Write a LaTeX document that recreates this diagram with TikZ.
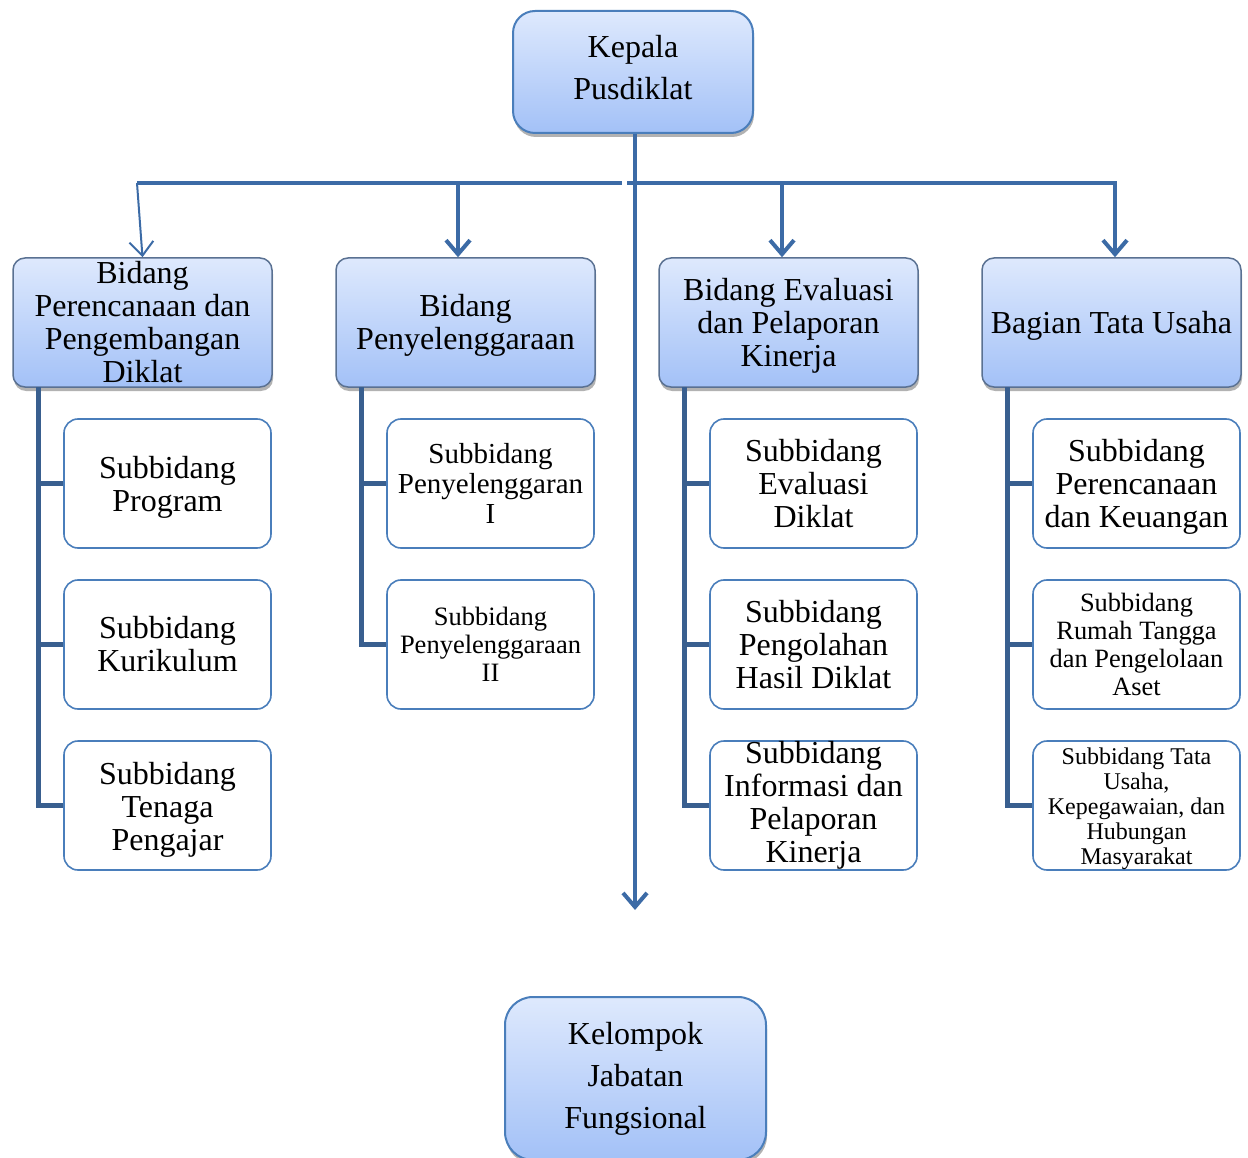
\documentclass[tikz,border=0pt]{standalone}
\usepackage{fontspec}
\setmainfont{Liberation Serif}
\usetikzlibrary{arrows.meta,shadows}
\definecolor{boxline}{HTML}{4A7EBB}
\definecolor{unitline}{HTML}{5A7192}
\definecolor{gradtop}{HTML}{DEE9FD}
\definecolor{gradbot}{HTML}{A3C1F7}
\definecolor{linkblue}{HTML}{3C6BA6}
\definecolor{brackblue}{HTML}{395F8F}
\newcommand{\padtop}[1]{\rule{0pt}{#1}}
\newcommand{\padbot}[1]{\rule[-#1]{0pt}{0pt}}
\begin{document}
\begin{tikzpicture}[x=1pt,y=-1pt,
    headbox/.style={draw=boxline,line width=2pt,top color=gradtop,bottom color=gradbot,align=center,inner sep=0pt,
        drop shadow={shadow xshift=1pt,shadow yshift=-4pt,opacity=0.3,fill=black},font=\fontsize{32}{42}\selectfont},
    unitbox/.style={draw=unitline,line width=1.5pt,rounded corners=12pt,top color=gradtop,bottom color=gradbot,align=center,inner sep=0pt,
        minimum width=259pt,minimum height=129pt,drop shadow={shadow xshift=1pt,shadow yshift=-4pt,opacity=0.3,fill=black},
        font=\fontsize{32}{33}\selectfont},
    subbox/.style={draw=boxline,line width=1.6pt,rounded corners=14pt,fill=white,align=center,inner sep=0pt,
        minimum width=207pt,minimum height=129pt,font=\fontsize{32}{33}\selectfont},
    link/.style={draw=linkblue,line width=4pt},
    bracket/.style={draw=brackblue,line width=5pt},
    tip/.style={-{Straight Barb[length=14pt,width=24pt]}}]
    \useasboundingbox (0,0) rectangle (1248,1158);
    \node[headbox,rounded corners=22pt,minimum width=240pt,minimum height=122pt] (kepala) at (633,72) {Kepala\\Pusdiklat\padbot{10pt}};
    \node[unitbox] (b1) at (142.5,322.5) {Bidang\\Perencanaan dan\\Pengembangan\\Diklat};
    \node[unitbox] (b2) at (465.5,322.5) {\padtop{28pt}Bidang\\Penyelenggaraan};
    \node[unitbox] (b3) at (788.5,322.5) {\padtop{28pt}Bidang Evaluasi\\dan Pelaporan\\Kinerja};
    \node[unitbox] (b4) at (1111.5,322.5) {\padtop{28pt}Bagian Tata Usaha};
    \node[subbox] (s11) at (167.5,483.5) {\padtop{30pt}Subbidang\\Program};
    \node[subbox] (s12) at (167.5,644.5) {Subbidang\\Kurikulum};
    \node[subbox] (s13) at (167.5,805.5) {\padtop{30pt}Subbidang\\Tenaga\\Pengajar};
    \node[subbox,font=\fontsize{29}{30}\selectfont] (s21) at (490.5,483.5) {Subbidang\\Penyelenggaran\\I};
    \node[subbox,font=\fontsize{26.5}{28}\selectfont] (s22) at (490.5,644.5) {Subbidang\\Penyelenggaraan\\II};
    \node[subbox] (s31) at (813.5,483.5) {Subbidang\\Evaluasi\\Diklat};
    \node[subbox] (s32) at (813.5,644.5) {Subbidang\\Pengolahan\\Hasil Diklat};
    \node[subbox] (s33) at (813.5,805.5) {Subbidang\\Informasi dan\\Pelaporan\\Kinerja};
    \node[subbox] (s41) at (1136.5,483.5) {\padtop{28pt}Subbidang\\Perencanaan\\dan Keuangan};
    \node[subbox,font=\fontsize{26.4}{28}\selectfont] (s42) at (1136.5,644.5) {Subbidang\\Rumah Tangga\\dan Pengelolaan\\Aset};
    \node[subbox,font=\fontsize{24}{25}\selectfont] (s43) at (1136.5,805.5) {\padtop{23pt}Subbidang Tata\\Usaha,\\Kepegawaian, dan\\Hubungan\\Masyarakat};
    \node[headbox,rounded corners=28pt,minimum width=261pt,minimum height=163pt] (jf) at (635.5,1078.5) {Kelompok\\Jabatan\\Fungsional};
    \coordinate (bus1) at (137,183);
    \coordinate (bus2) at (458,183);
    \coordinate (bus3) at (782,183);
    \coordinate (bus4) at (1115,183);
    \coordinate (gapl) at (622,183);
    \coordinate (gapr) at (627,183);
    \coordinate (jfend) at (635,910);
    \draw[link] (bus1) -- (gapl);
    \draw[link,tip] (gapr) -- (bus4) -- (bus4 |- b4.north);
    \draw[link,tip] (bus2) -- (bus2 |- b2.north);
    \draw[link,tip] (bus3) -- (bus3 |- b3.north);
    \draw[link,line width=2pt,tip] (bus1) -- (b1.north);
    \draw[link,tip] (kepala.south -| jfend) -- (jfend);
    \coordinate (k1) at (38,387);
    \coordinate (k2) at (361,387);
    \coordinate (k3) at (684,387);
    \coordinate (k4) at (1007,387);
    \draw[bracket] (k1) |- (s13);
    \draw[bracket] (k1 |- s11) -- (s11);
    \draw[bracket] (k1 |- s12) -- (s12);
    \draw[bracket] (k2) |- (s22);
    \draw[bracket] (k2 |- s21) -- (s21);
    \draw[bracket] (k3) |- (s33);
    \draw[bracket] (k3 |- s31) -- (s31);
    \draw[bracket] (k3 |- s32) -- (s32);
    \draw[bracket] (k4) |- (s43);
    \draw[bracket] (k4 |- s41) -- (s41);
    \draw[bracket] (k4 |- s42) -- (s42);
\end{tikzpicture}
\end{document}
